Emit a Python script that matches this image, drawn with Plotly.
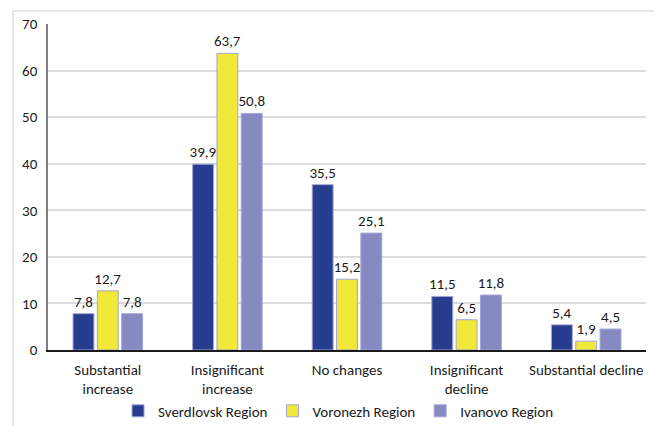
import plotly.graph_objects as go

categories = ["Substantial<br>increase", "Insignificant<br>increase", "No changes",
              "Insignificant<br>decline", "Substantial decline"]
series_names = ["Sverdlovsk Region", "Voronezh Region", "Ivanovo Region"]
sverdlovsk = [7.8, 39.9, 35.5, 11.5, 5.4]
voronezh = [12.7, 63.7, 15.2, 6.5, 1.9]
ivanovo = [7.8, 50.8, 25.1, 11.8, 4.5]
y_ticks = [0, 10, 20, 30, 40, 50, 60, 70]

colors = ["#283D8E", "#F0E93A", "#8689C2"]
FONT = "Carlito, Calibri, Lato, sans-serif"
FS = 15

fig = go.Figure()
for name, vals, col in zip(series_names, [sverdlovsk, voronezh, ivanovo], colors):
    fig.add_trace(go.Bar(
        x=categories, y=vals, name=name,
        marker=dict(color=col, line=dict(color="#A3A6D6", width=1)),
        text=[f"{v:.1f}".replace(".", ",") for v in vals],
        textposition="outside", cliponaxis=False, constraintext="none",
        textfont=dict(size=FS, color="#1a1a1a", family=FONT),
    ))

fig.update_layout(
    width=654, height=426,
    margin=dict(l=48, r=8, t=24, b=76, autoexpand=False),
    paper_bgcolor="white", plot_bgcolor="white",
    barmode="group", bargap=0.39, bargroupgap=0.14,
    font=dict(family=FONT, size=FS, color="#1a1a1a"),
    showlegend=True,
    legend=dict(orientation="h", x=0.485, xanchor="center", xref="paper",
                y=0.035, yanchor="middle", yref="container",
                font=dict(size=FS, family=FONT), itemwidth=30, traceorder="normal",
                bgcolor="rgba(0,0,0,0)"),
    xaxis=dict(showline=True, linecolor="#1a1a1a", linewidth=1.5, ticks="",
               ticklabelstandoff=5,
               tickfont=dict(size=FS, family=FONT), showgrid=False, automargin=False),
    yaxis=dict(range=[0, 70], tickvals=y_ticks, showline=True, linecolor="#7f7f7f",
               linewidth=1.5, gridcolor="#dcdcdc", gridwidth=1.5, ticks="",
               ticklabelstandoff=6, tickfont=dict(size=FS, family=FONT), zeroline=False,
               automargin=False),
)

# light outer frame (top and left edges)
fig.add_shape(type="line", xref="paper", yref="paper", x0=-0.0585, x1=1.02, y0=1.04, y1=1.04,
              line=dict(color="#e6e6e6", width=2))
fig.add_shape(type="line", xref="paper", yref="paper", x0=-0.0585, x1=-0.0585, y0=1.04, y1=-0.3,
              line=dict(color="#e6e6e6", width=2))

fig.write_html("out.html")
